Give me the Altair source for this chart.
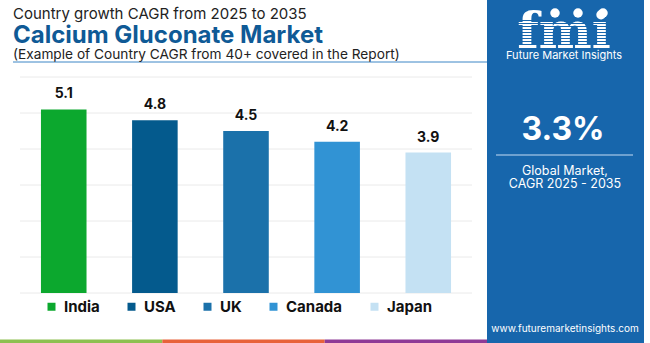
import altair as alt
import pandas as pd

# ---- data ----
countries = ["India", "USA", "UK", "Canada", "Japan"]
cagr = [5.1, 4.8, 4.5, 4.2, 3.9]
bar_colors = ["#0CA82E", "#045A8D", "#1B71AA", "#3193D4", "#C4E1F3"]
y_ticks = [0, 1, 2, 3, 4, 5, 6]

title_top = "Country growth CAGR from 2025 to 2035"
title_main = "Calcium Gluconate Market"
title_sub = "(Example of Country CAGR from 40+ covered in the Report)"
global_cagr = "3.3%"
global_lines = ["Global Market,", "CAGR 2025 - 2035"]
brand_logo = "fmi"
brand = "Future Market Insights"
website = "www.futuremarketinsights.com"
strip_colors = ["#8DC050", "#E8623A", "#8E3A96"]

# ---- layout (plot area origin at LEFT, TOP) ----
W, H = 452, 216
LEFT, TOP = 20, 77
PANEL = "#1766AC"
FONT = "Inter"

df = pd.DataFrame({"Country": countries, "CAGR": cagr})
ydom = alt.Scale(domain=[0, 6], nice=False)

x_enc = alt.X("Country:N", sort=countries,
              scale=alt.Scale(paddingInner=0.5, paddingOuter=0.23), axis=None)

grid = alt.Chart(pd.DataFrame({"v": y_ticks})).mark_rule(
    color="#EAEAEA", strokeWidth=1).encode(
    y=alt.Y("v:Q", scale=ydom, axis=None), x=alt.value(0), x2=alt.value(W))

bars = alt.Chart(df).mark_bar().encode(
    x=x_enc, y=alt.Y("CAGR:Q", scale=ydom, axis=None),
    color=alt.Color("Country:N", sort=countries,
                    scale=alt.Scale(domain=countries, range=bar_colors),
                    legend=alt.Legend(orient="none", legendX=24, legendY=222,
                                      direction="horizontal", title=None,
                                      symbolType="square", symbolSize=64,
                                      symbolStrokeWidth=0, symbolOpacity=1,
                                      labelFont=FONT, labelFontWeight="bold",
                                      labelFontSize=15, labelColor="#111111",
                                      labelOffset=5, columnPadding=24, padding=0)),
)

values = alt.Chart(df).mark_text(font=FONT, fontWeight="bold", fontSize=14,
                                 dy=-15, color="#111111").encode(
    x=x_enc, y=alt.Y("CAGR:Q", scale=ydom, axis=None),
    text=alt.Text("CAGR:Q", format=".1f"))


def txt(s, xp, yp, baseline="alphabetic", **kw):
    return alt.Chart(pd.DataFrame({"t": [s]})).mark_text(baseline=baseline, **kw).encode(
        x=alt.value(xp - LEFT), y=alt.value(yp - TOP), text="t:N")


one = pd.DataFrame({"a": [0]})

panel = alt.Chart(one).mark_rect(color=PANEL).encode(
    x=alt.value(487 - LEFT), x2=alt.value(644 - LEFT),
    y=alt.value(0 - TOP), y2=alt.value(343 - TOP))

strip_df = pd.DataFrame({"x0": [0 - LEFT, 162.3 - LEFT, 324.7 - LEFT],
                         "x1": [162.3 - LEFT, 324.7 - LEFT, 487 - LEFT],
                         "c": strip_colors})
strip = alt.Chart(strip_df).mark_rect().encode(
    x=alt.X("x0:Q", scale=None), x2="x1:Q",
    y=alt.value(339.5 - TOP), y2=alt.value(343 - TOP),
    color=alt.Color("c:N", scale=None),
)

underline = alt.Chart(one).mark_rule(color="#3C86C6", strokeWidth=1).encode(
    x=alt.value(13 - LEFT), x2=alt.value(487 - LEFT), y=alt.value(62 - TOP))

sep = alt.Chart(one).mark_rule(color="#8DB6DC", strokeWidth=1.5).encode(
    x=alt.value(496 - LEFT), x2=alt.value(633 - LEFT), y=alt.value(155 - TOP))

circles = alt.Chart(pd.DataFrame({"cx": [555 - LEFT, 578 - LEFT, 603 - LEFT]})).mark_point(
    filled=True, color="white", opacity=1, size=90).encode(
    x=alt.X("cx:Q", scale=None), y=alt.value(13 - TOP))

# decorative stripes across the logo letters
stripe_y = [20.5, 23.5, 26.5, 29.5, 32.5, 35.5, 38.5, 41.5, 44.5]
stripes = alt.Chart(pd.DataFrame({"sy": [v - TOP for v in stripe_y]})).mark_rule(
    color=PANEL, strokeWidth=1).encode(
    y=alt.Y("sy:Q", scale=None), x=alt.value(500 - LEFT), x2=alt.value(630 - LEFT))

texts = [
    txt(title_top, 13, 19, align="left", font=FONT, fontSize=15, color="#222222"),
    txt(title_main, 13, 43, align="left", font=FONT, fontSize=24, fontWeight="bold", color="#0F5A96"),
    txt(title_sub, 13, 59, align="left", font=FONT, fontSize=13.7, color="#222222"),
    txt(brand_logo, 564, 47.5, align="center", font="DejaVu Serif", fontSize=50, fontWeight="bold", color="white"),
    txt(brand, 564, 59, align="center", font=FONT, fontSize=11, color="white"),
    txt(global_cagr, 563, 139.5, align="center", font=FONT, fontSize=32, fontWeight="bold", color="white"),
    txt(global_lines[0], 565, 174.5, align="center", font=FONT, fontSize=12.5, color="white"),
    txt(global_lines[1], 565, 188, align="center", font=FONT, fontSize=12.5, color="white"),
    txt(website, 565, 331.5, align="center", font=FONT, fontSize=10, color="white"),
]

chart = alt.layer(panel, strip, underline, sep, grid, bars, values, *texts[:3],
                  texts[3], stripes, circles, *texts[4:]).properties(
    width=W, height=H, autosize="none",
    padding={"left": LEFT, "top": TOP, "right": 650 - LEFT - W, "bottom": 343 - TOP - H},
    background="white",
).configure_view(stroke=None)

chart.save("out.html", embed_options={"renderer": "svg", "actions": False})
